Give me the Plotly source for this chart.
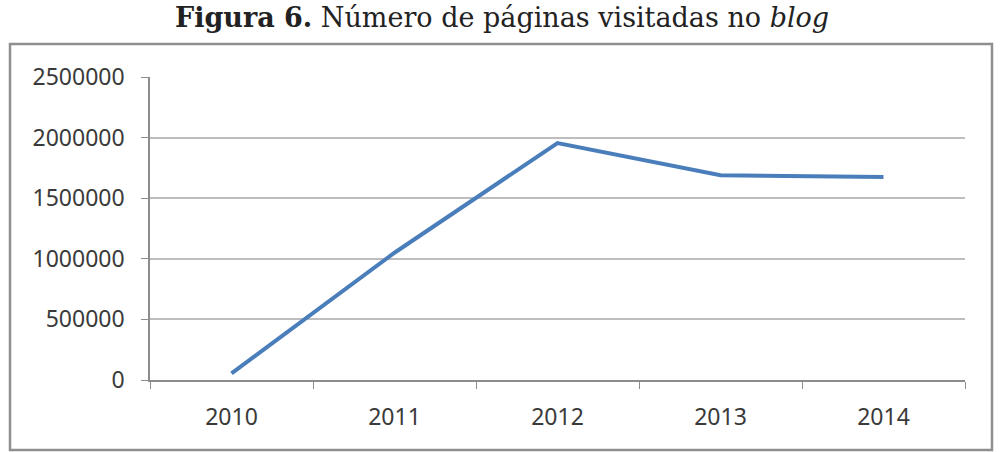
import plotly.graph_objects as go

years = ["2010", "2011", "2012", "2013", "2014"]
pages = [55000, 1050000, 1955000, 1690000, 1675000]
y_ticks = [0, 500000, 1000000, 1500000, 2000000, 2500000]
y_tick_labels = ["0", "500000", "1000000", "1500000", "2000000", "2500000"]

title_html = "<b>Figura 6.</b> Número de páginas visitadas no <i>blog</i>"

W, H = 1003, 452
L, R, T, B = 150, 38, 77, 72
pw, ph = W - L - R, H - T - B

def px_x(x):
    return (x - L) / pw

def px_y(y):
    return (H - B - y) / ph

tick_font = dict(family="Noto Sans", size=23, color="#3a3a3a")

fig = go.Figure()
fig.add_trace(go.Scatter(
    x=years, y=pages, mode="lines",
    line=dict(color="#4a7ebb", width=4),
    hoverinfo="skip", showlegend=False,
))

fig.update_layout(
    width=W, height=H,
    margin=dict(l=L, r=R, t=T, b=B, pad=0),
    paper_bgcolor="white", plot_bgcolor="white",
    showlegend=False,
    xaxis=dict(
        type="category",
        showgrid=False,
        showline=True, linecolor="#8c8c8c", linewidth=1.5,
        ticks="outside", tickson="boundaries", ticklen=7, tickcolor="#8c8c8c",
        tickfont=tick_font,
        ticklabelstandoff=16,
        range=[-0.5, 4.5],
        zeroline=False,
    ),
    yaxis=dict(
        range=[0, 2500000],
        tickvals=y_ticks, ticktext=y_tick_labels,
        showgrid=True, gridcolor="#bdbdbd", gridwidth=1.5,
        showline=True, linecolor="#8c8c8c", linewidth=1.5,
        ticks="outside", ticklen=7, tickcolor="#8c8c8c",
        tickfont=tick_font,
        ticklabelstandoff=12,
        zeroline=False,
    ),
    font=dict(family="Noto Sans"),
)

# outer chart frame
fig.add_shape(
    type="rect", xref="paper", yref="paper",
    x0=px_x(10), x1=px_x(992), y0=px_y(450), y1=px_y(44),
    line=dict(color="#8f8f8f", width=2.5), fillcolor="rgba(0,0,0,0)",
    layer="below",
)

fig.add_annotation(
    text=title_html, xref="paper", yref="paper",
    x=px_x(502), y=px_y(17), xanchor="center", yanchor="middle",
    showarrow=False,
    font=dict(family="DejaVu Serif", size=27, color="#222222"),
)

fig.write_html("out.html")
